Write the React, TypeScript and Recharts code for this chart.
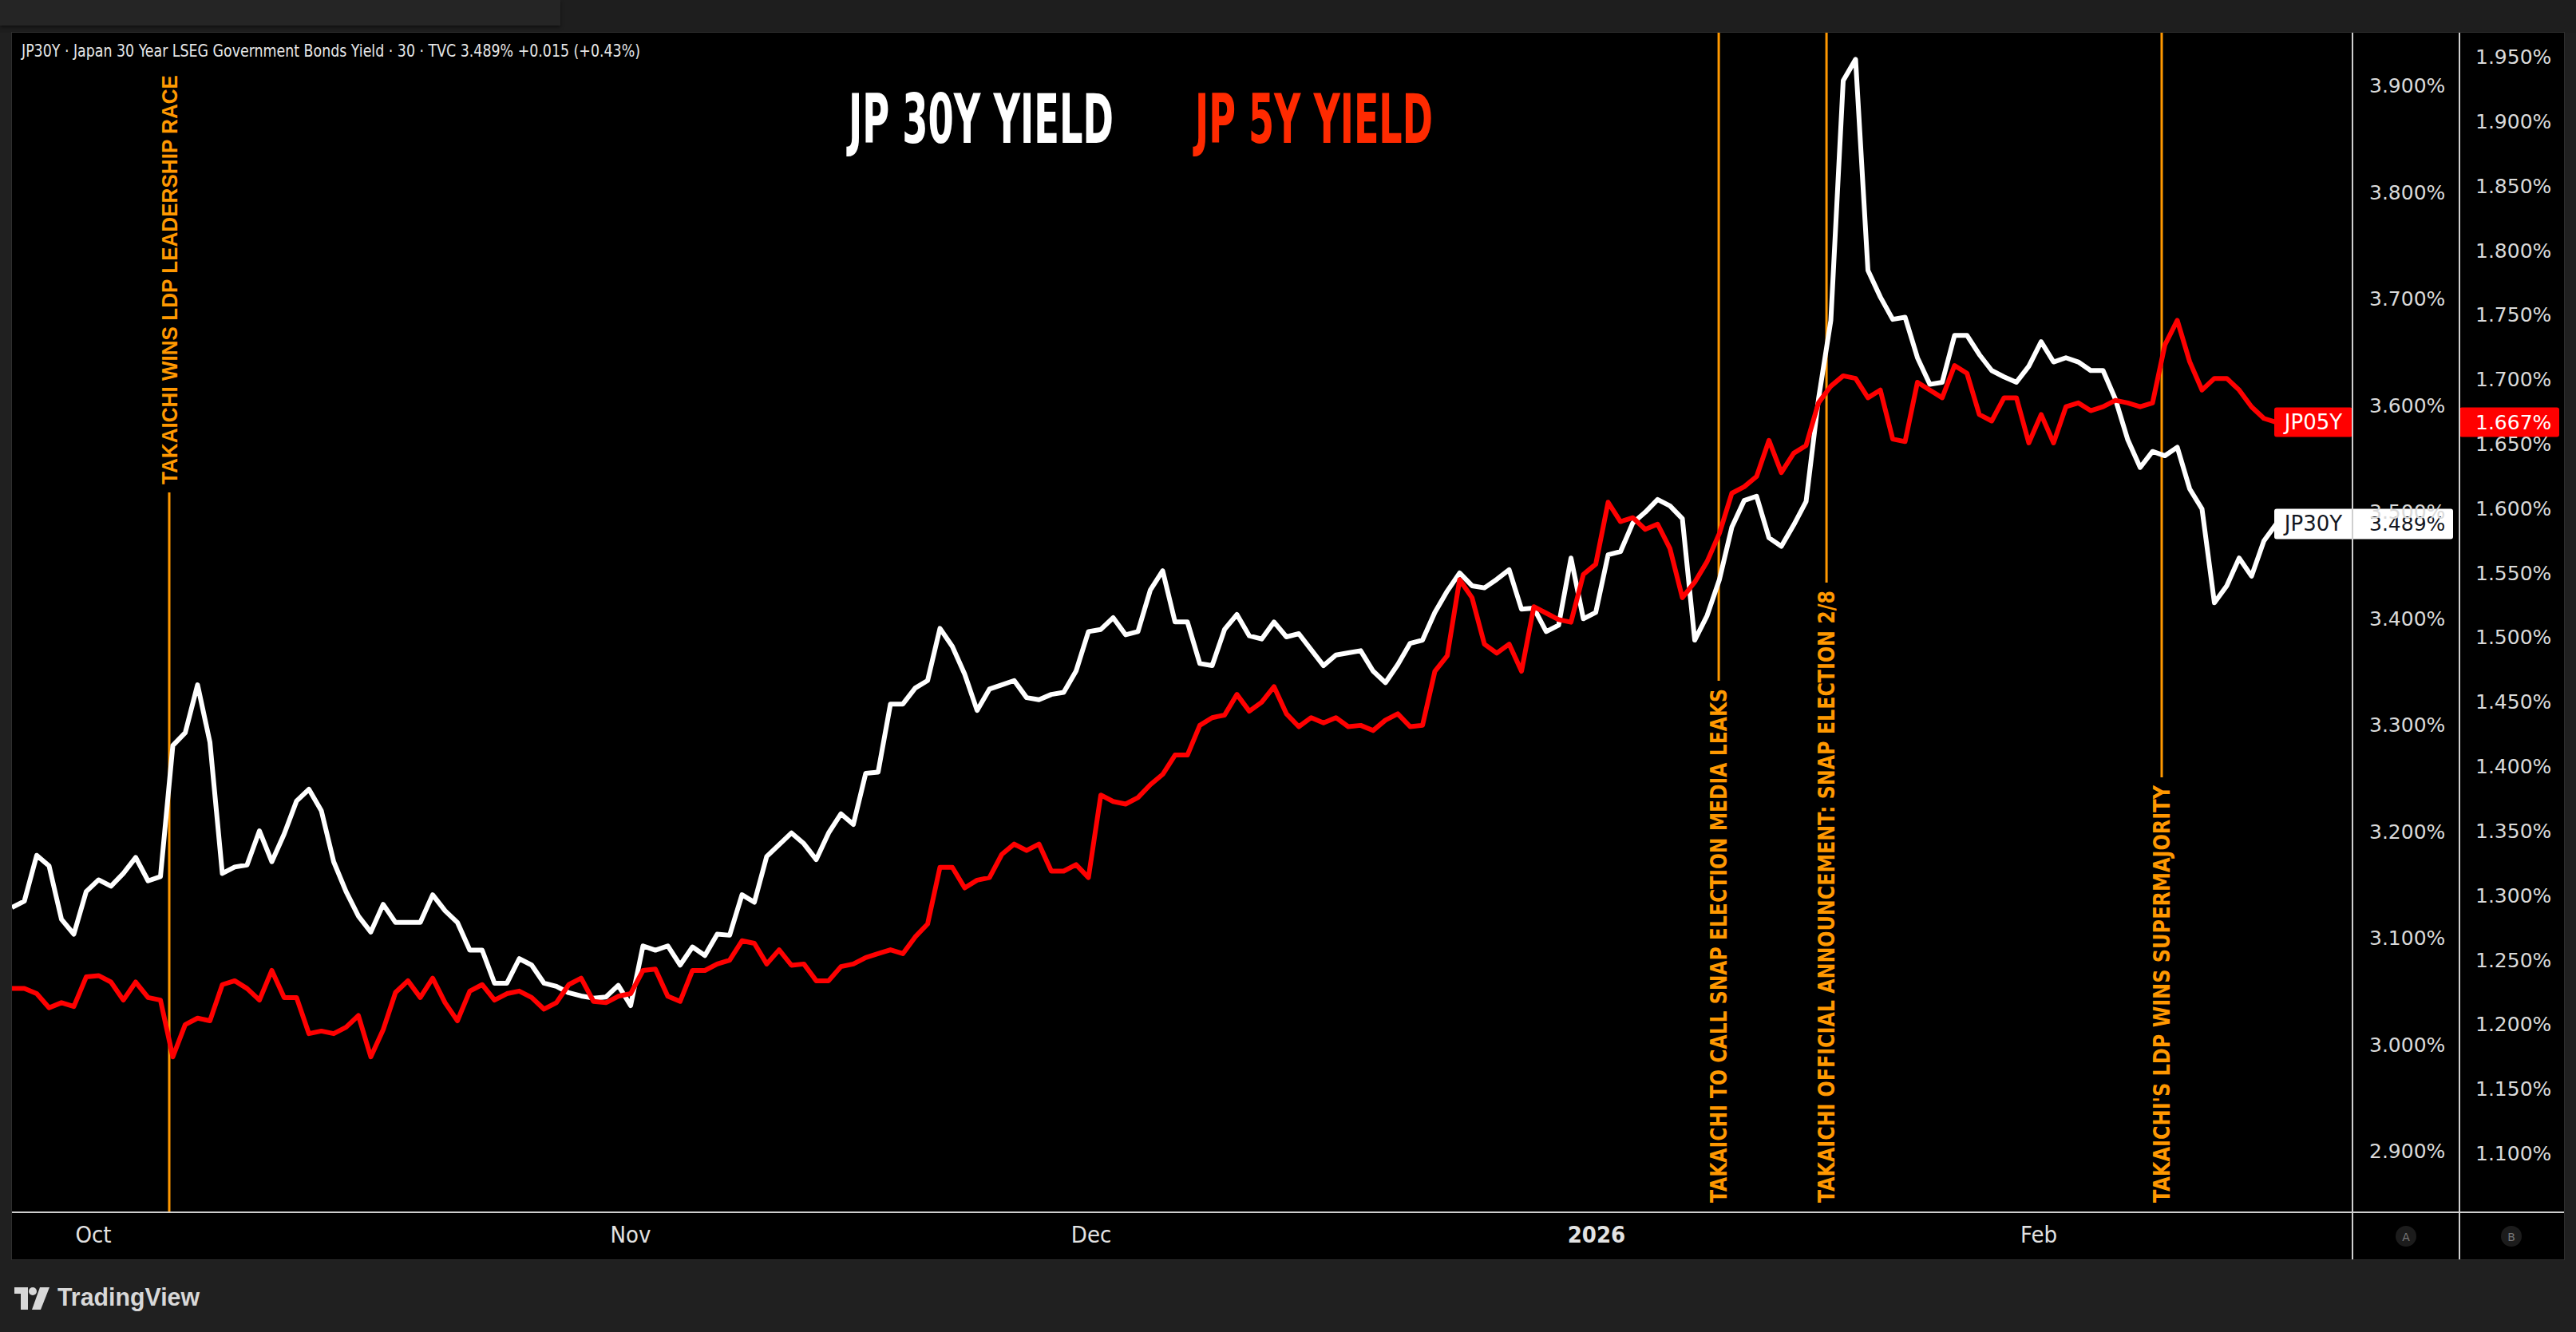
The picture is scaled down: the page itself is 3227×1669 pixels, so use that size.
import React from 'react';
import { LineChart, Line, XAxis, YAxis, ReferenceLine } from 'recharts';

// ---- DATA (x = half-trading-day steps) ----
const jp30Yield = [
  3.129, 3.135, 3.178, 3.168, 3.118, 3.104, 3.144, 3.155, 3.149, 3.161,
  3.176, 3.154, 3.158, 3.281, 3.293, 3.338, 3.284, 3.161, 3.167, 3.169,
  3.201, 3.172, 3.198, 3.229, 3.240, 3.220, 3.172, 3.144, 3.121, 3.106,
  3.132, 3.115, 3.115, 3.115, 3.141, 3.126, 3.115, 3.089, 3.089, 3.058,
  3.058, 3.081, 3.075, 3.058, 3.055, 3.049, 3.046, 3.044, 3.045, 3.056,
  3.037, 3.093, 3.089, 3.093, 3.075, 3.092, 3.084, 3.104, 3.103, 3.141,
  3.134, 3.177, 3.188, 3.199, 3.189, 3.174, 3.199, 3.217, 3.207, 3.255,
  3.256, 3.320, 3.320, 3.335, 3.342, 3.391, 3.374, 3.348, 3.314, 3.334,
  3.338, 3.342, 3.326, 3.324, 3.329, 3.331, 3.351, 3.388, 3.390, 3.401,
  3.385, 3.388, 3.427, 3.445, 3.397, 3.397, 3.358, 3.356, 3.390, 3.404,
  3.384, 3.381, 3.397, 3.383, 3.386, 3.371, 3.356, 3.366, 3.368, 3.370,
  3.351, 3.340, 3.357, 3.377, 3.380, 3.406, 3.426, 3.443, 3.431, 3.429,
  3.437, 3.446, 3.409, 3.410, 3.388, 3.394, 3.457, 3.400, 3.406, 3.460,
  3.463, 3.490, 3.500, 3.512, 3.506, 3.494, 3.380, 3.403, 3.437, 3.486,
  3.511, 3.515, 3.476, 3.468, 3.488, 3.510, 3.606, 3.680, 3.905, 3.925,
  3.727, 3.702, 3.681, 3.683, 3.645, 3.620, 3.622, 3.666, 3.666, 3.648,
  3.633, 3.627, 3.622, 3.637, 3.660, 3.641, 3.645, 3.641, 3.633, 3.633,
  3.606, 3.568, 3.542, 3.557, 3.553, 3.561, 3.522, 3.503, 3.415, 3.431,
  3.457, 3.440, 3.473, 3.489,
];

const jp05Yield = [
  1.228, 1.228, 1.224, 1.213, 1.217, 1.214, 1.237, 1.238, 1.233, 1.219,
  1.233, 1.221, 1.219, 1.175, 1.200, 1.205, 1.203, 1.231, 1.234, 1.228,
  1.219, 1.242, 1.221, 1.221, 1.193, 1.195, 1.193, 1.198, 1.207, 1.175,
  1.196, 1.225, 1.234, 1.221, 1.236, 1.217, 1.203, 1.226, 1.231, 1.219,
  1.224, 1.226, 1.221, 1.212, 1.217, 1.231, 1.236, 1.218, 1.217, 1.222,
  1.224, 1.242, 1.243, 1.222, 1.218, 1.242, 1.242, 1.247, 1.250, 1.265,
  1.263, 1.247, 1.258, 1.246, 1.247, 1.234, 1.234, 1.245, 1.247, 1.252,
  1.255, 1.258, 1.255, 1.268, 1.278, 1.322, 1.322, 1.306, 1.312, 1.314,
  1.332, 1.340, 1.335, 1.340, 1.319, 1.319, 1.324, 1.314, 1.378, 1.373,
  1.371, 1.376, 1.386, 1.394, 1.409, 1.409, 1.432, 1.438, 1.440, 1.456,
  1.443, 1.450, 1.462, 1.441, 1.431, 1.438, 1.434, 1.438, 1.431, 1.432,
  1.428, 1.436, 1.441, 1.431, 1.432, 1.474, 1.486, 1.545, 1.531, 1.495,
  1.488, 1.495, 1.474, 1.524, 1.519, 1.514, 1.512, 1.549, 1.557, 1.605,
  1.590, 1.593, 1.584, 1.588, 1.569, 1.531, 1.543, 1.559, 1.581, 1.612,
  1.617, 1.625, 1.653, 1.628, 1.643, 1.649, 1.682, 1.695, 1.703, 1.701,
  1.686, 1.692, 1.654, 1.652, 1.698, 1.692, 1.686, 1.711, 1.705, 1.673,
  1.668, 1.686, 1.686, 1.651, 1.673, 1.651, 1.679, 1.682, 1.676, 1.679,
  1.684, 1.682, 1.679, 1.682, 1.727, 1.746, 1.714, 1.692, 1.701, 1.701,
  1.692, 1.679, 1.670, 1.667,
];

const monthTickPos = [6.58, 50.0, 87.23, 128.06, 163.81];
const monthTickLabels = ['Oct', 'Nov', 'Dec', '2026', 'Feb'];
const ticks30 = [2.9, 3.0, 3.1, 3.2, 3.3, 3.4, 3.5, 3.6, 3.7, 3.8, 3.9];
const ticks05 = [1.1, 1.15, 1.2, 1.25, 1.3, 1.35, 1.4, 1.45, 1.5, 1.55, 1.6, 1.65, 1.7, 1.75, 1.8, 1.85, 1.9, 1.95];
const eventPos = [12.71, 137.94, 146.65, 173.74];
const eventText = [
  'TAKAICHI WINS LDP LEADERSHIP RACE',
  'TAKAICHI TO CALL SNAP ELECTION MEDIA LEAKS',
  'TAKAICHI OFFICIAL ANNOUNCEMENT: SNAP ELECTION 2/8',
  "TAKAICHI'S LDP WINS SUPERMAJORITY",
];
const X_END = 189.16;

const chartData = jp30Yield.map((v, i) => ({ i, jp30: v, jp05: jp05Yield[i] }));
const last30 = jp30Yield[jp30Yield.length - 1];
const last05 = jp05Yield[jp05Yield.length - 1];

// ---- STYLE ----
const ORANGE = '#ff9800';
const NARROW = "'Liberation Sans Narrow', 'DejaVu Sans Condensed', sans-serif";
const WIDE = "'DejaVu Sans', Verdana, sans-serif";
const eventStyle = [
  { place: 'top', len: 513, font: "'Liberation Sans', Arial, sans-serif", size: 27 },
  { place: 'bottom', len: 644, font: NARROW, size: 28 },
  { place: 'bottom', len: 767, font: NARROW, size: 28 },
  { place: 'bottom', len: 523, font: NARROW, size: 28 },
];

const XTick = (props: any) => {
  const { x, y, index } = props;
  const label = monthTickLabels[index];
  return (
    <text x={x} y={y + 30} textAnchor="middle" dominantBaseline="middle"
      fill="#e2e2e2" fontSize={29} fontFamily={NARROW}
      fontWeight={label === '2026' ? 700 : 400}>
      {label}
    </text>
  );
};

const YTick = (props: any) => {
  const { x, y, payload } = props;
  return (
    <text x={x} y={y} textAnchor="start" dominantBaseline="central"
      fill="#dadada" fontSize={25} fontFamily={WIDE}>
      {Number(payload.value).toFixed(3) + '%'}
    </text>
  );
};

const makeEventLabel = (k: number) => (p: any) => {
  const vb = p.viewBox || {};
  const x = vb.x, top = vb.y, bottom = vb.y + vb.height;
  const st = eventStyle[k];
  let tTop: number, tBottom: number, l1: number, l2: number;
  if (st.place === 'top') {
    tTop = top + 53;
    tBottom = tTop + st.len;
    l1 = tBottom + 10;
    l2 = bottom;
  } else {
    tBottom = bottom - 12;
    tTop = tBottom - st.len;
    l1 = top;
    l2 = tTop - 10;
  }
  return (
    <g>
      <line x1={x} x2={x} y1={l1} y2={l2} stroke={ORANGE} strokeWidth={3} />
      <text transform={`translate(${x + 10},${tBottom}) rotate(-90)`}
        textLength={st.len} lengthAdjust="spacingAndGlyphs"
        fill={ORANGE} fontSize={st.size} fontWeight={700} fontFamily={st.font}>
        {eventText[k]}
      </text>
    </g>
  );
};

const Tag05 = (p: any) => {
  const vb = p.viewBox || {};
  const right = vb.x + vb.width;
  const y = vb.y;
  const h = 37;
  return (
    <g>
      <rect x={right - 98} y={y - h / 2} width={98} height={h} rx={3} fill="#ff0000" />
      <rect x={right + 134} y={y - h / 2} width={125} height={h} rx={3} fill="#ff0000" />
      <text x={right - 49} y={y} textAnchor="middle" dominantBaseline="central"
        fill="#ffffff" fontSize={26} fontFamily={WIDE}>JP05Y</text>
      <text x={right + 154} y={y} textAnchor="start" dominantBaseline="central"
        fill="#ffffff" fontSize={25} fontFamily={WIDE}>{last05.toFixed(3) + '%'}</text>
    </g>
  );
};

const Tag30 = (p: any) => {
  const vb = p.viewBox || {};
  const right = vb.x + vb.width;
  const y = vb.y;
  const h = 38;
  return (
    <g>
      <rect x={right - 98} y={y - h / 2} width={224} height={h} rx={3} fill="#ffffff" />
      <text x={right - 49} y={y} textAnchor="middle" dominantBaseline="central"
        fill="#131722" fontSize={26} fontFamily={WIDE}>JP30Y</text>
      <text x={right + 21} y={y} textAnchor="start" dominantBaseline="central"
        fill="#131722" fontSize={25} fontFamily={WIDE}>{last30.toFixed(3) + '%'}</text>
    </g>
  );
};

const LEGEND_SCALE = 0.75;

export default function App() {
  return (
    <div style={{ position: 'absolute', left: 0, top: 0, width: 3227, height: 1669, background: '#202020', overflow: 'hidden' }}>
      {/* top bar */}
      <div style={{ position: 'absolute', left: 0, top: 0, width: 3227, height: 41, background: '#1e1e1e' }} />
      <div style={{ position: 'absolute', left: 0, top: 0, width: 702, height: 32, background: '#252525', boxShadow: '0 2px 4px rgba(0,0,0,0.5)' }} />
      {/* chart frame */}
      <div style={{ position: 'absolute', left: 15, top: 41, width: 3197, height: 1537, background: '#000000', boxShadow: '0 0 0 1px #2e2e2e' }}>
        <LineChart width={3197} height={1537} data={chartData} margin={{ top: 0, right: 0, bottom: 0, left: 0 }}>
          <XAxis dataKey="i" type="number" domain={[0, X_END]} ticks={monthTickPos} interval={0}
            tickSize={0} tickMargin={0} axisLine={false} tickLine={false} height={59}
            tick={<XTick />} allowDataOverflow />
          <YAxis yAxisId="a" orientation="right" width={134} domain={[2.843, 3.95]} ticks={ticks30}
            interval={0} axisLine={false} tickLine={false} tickSize={0} tickMargin={21}
            tick={<YTick />} allowDataOverflow />
          <YAxis yAxisId="b" orientation="right" width={131} domain={[1.0545, 1.969]} ticks={ticks05}
            interval={0} axisLine={false} tickLine={false} tickSize={0} tickMargin={20}
            tick={<YTick />} allowDataOverflow />
          {eventPos.map((pos, k) => (
            <ReferenceLine key={'ev' + k} x={pos} yAxisId="a" stroke="none" label={makeEventLabel(k)} />
          ))}
          <Line yAxisId="a" type="linear" dataKey="jp30" stroke="#ffffff" strokeWidth={6}
            strokeLinejoin="round" dot={false} activeDot={false} isAnimationActive={false} />
          <Line yAxisId="b" type="linear" dataKey="jp05" stroke="#ff0000" strokeWidth={6}
            strokeLinejoin="round" dot={false} activeDot={false} isAnimationActive={false} />
          <ReferenceLine y={last05} yAxisId="b" stroke="none" label={(p: any) => <Tag05 {...p} />} />
          <ReferenceLine y={last30} yAxisId="a" stroke="none" label={(p: any) => <Tag30 {...p} />} />
        </LineChart>
      </div>
      {/* axis separators */}
      <div style={{ position: 'absolute', left: 2946, top: 41, width: 2, height: 1537, background: '#cfcfcf' }} />
      <div style={{ position: 'absolute', left: 3080, top: 41, width: 2, height: 1537, background: '#cfcfcf' }} />
      <div style={{ position: 'absolute', left: 15, top: 1518, width: 3197, height: 2, background: '#cfcfcf' }} />
      {/* overlay text */}
      <svg width={3227} height={1669} style={{ position: 'absolute', left: 0, top: 0, pointerEvents: 'none' }}>
        <text x={27} y={71} fill="#e6e6e6" fontSize={21} fontFamily={NARROW}
          textLength={775} lengthAdjust="spacingAndGlyphs">
          JP30Y · Japan 30 Year LSEG Government Bonds Yield · 30 · TVC  3.489%  +0.015 (+0.43%)
        </text>
        <text transform={`translate(1063,179) scale(${LEGEND_SCALE},1)`} fill="#ffffff" fontSize={85}
          fontWeight={700} fontFamily={NARROW}
          textLength={332 / LEGEND_SCALE} lengthAdjust="spacingAndGlyphs">JP 30Y YIELD</text>
        <text transform={`translate(1497,179) scale(${LEGEND_SCALE},1)`} fill="#ff2a00" fontSize={85}
          fontWeight={700} fontFamily={NARROW}
          textLength={298 / LEGEND_SCALE} lengthAdjust="spacingAndGlyphs">JP 5Y YIELD</text>
        {/* A / B badges */}
        <circle cx={3014} cy={1549} r={13} fill="#1c1c1c" />
        <text x={3014} y={1550} textAnchor="middle" dominantBaseline="central" fill="#777" fontSize={14} fontFamily={WIDE}>A</text>
        <circle cx={3146} cy={1549} r={13} fill="#1c1c1c" />
        <text x={3146} y={1550} textAnchor="middle" dominantBaseline="central" fill="#777" fontSize={14} fontFamily={WIDE}>B</text>
        {/* TradingView logo */}
        <path d="M18,1613 H35 V1641 H26 V1621 H18 Z" fill="#d8d8d8" />
        <circle cx={41} cy={1618} r={5} fill="#d8d8d8" />
        <path d="M50,1613 H62 L51,1641 H40 Z" fill="#d8d8d8" />
        <text x={72} y={1636} fill="#d8d8d8" fontSize={32} fontWeight={700}
          fontFamily="'Liberation Sans', Arial, sans-serif" textLength={178} lengthAdjust="spacingAndGlyphs">TradingView</text>
      </svg>
    </div>
  );
}
